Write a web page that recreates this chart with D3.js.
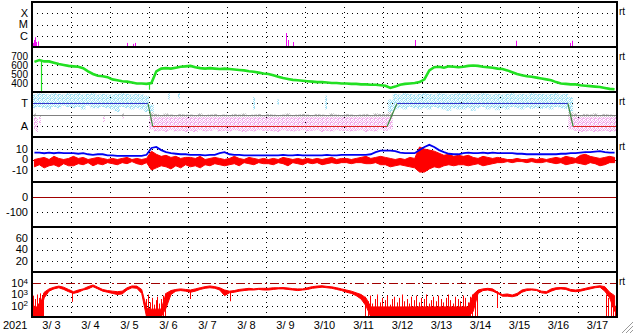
<!DOCTYPE html>
<html>
<head>
<meta charset="utf-8">
<script src="https://cdn.jsdelivr.net/npm/d3@7"></script>
<style>
  body { margin: 0; background: #fff; }
  svg text { font-family: "Liberation Sans", Arial, Helvetica, sans-serif; fill: #000; }
</style>
</head>
<body>
<svg id="chart" width="633" height="334"></svg>
<script>
// ---- data (3-hour bins, 8 per day, 3/3 00:00 .. 3/18 00:00) ----
const dateLabels = ["3/ 3", "3/ 4", "3/ 5", "3/ 6", "3/ 7", "3/ 8", "3/ 9", "3/10",
                    "3/11", "3/12", "3/13", "3/14", "3/15", "3/16", "3/17"];
const yearLabel = "2021";

// X-ray flares: hour, flux (W/m2)
const flareHour = [0.6, 1.2, 1.8, 2.5, 3.4, 3.7, 58.5, 62.2, 63.4, 156.3, 157.5, 160.6, 235.7, 297.8, 331.1, 332.3];
const flareFlux = [2.3e-7, 4.2e-7, 7.3e-7, 2.8e-7, 2.3e-7, 3.1e-7, 2.3e-7, 1.9e-7, 2.3e-7, 1.75e-6, 4.2e-7, 2.8e-7, 4.2e-7, 3.6e-7, 2.3e-7, 3.6e-7];

// solar wind speed (km/s)
const speed = [
  635, 655, 640, 640, 625, 610, 600, 590,
  585, 580, 565, 530, 500, 480, 475, 465,
  440, 430, 420, 415, 405, 395, 395, 390,
  400, 530, 560, 565, 560, 570, 580, 585,
  590, 575, 565, 560, 565, 560, 555, 560,
  555, 550, 545, 540, 530, 525, 515, 505,
  500, 485, 470, 455, 445, 435, 430, 425,
  420, 415, 410, 410, 405, 400, 400, 395,
  395, 390, 390, 385, 385, 380, 380, 375,
  370, 345, 360, 380, 390, 395, 400, 410,
  440, 540, 575, 580, 570, 585, 580, 575,
  580, 590, 595, 590, 580, 575, 570, 560,
  555, 540, 520, 500, 485, 475, 470, 460,
  450, 440, 430, 410, 395, 390, 385, 385,
  375, 370, 365, 360, 355, 345, 335, 330
];
const speedDropHour = [5.5, 72];
const speedDropValue = [300, 325];

// IMF angle scatter envelope (deg)
const phiLo = [
  230, 240, 230, 220, 240, 230, 250, 240,
  230, 240, 220, 250, 230, 230, 240, 230,
  220, 200, 240, 230, 220, 230, 220, 200,
  60, 45, 50, 40, 55, 45, 50, 40,
  50, 40, 55, 45, 50, 60, 45, 50,
  45, 55, 50, 40, 50, 45, 55, 50,
  50, 45, 40, 55, 50, 45, 50, 55,
  45, 50, 55, 40, 50, 45, 55, 50,
  50, 45, 50, 55, 40, 50, 45, 60,
  50, 60, 220, 230, 220, 240, 230, 220,
  230, 220, 240, 230, 220, 210, 230, 220,
  220, 230, 210, 230, 240, 220, 230, 215,
  230, 220, 240, 230, 220, 235, 225, 230,
  225, 230, 220, 240, 230, 225, 60, 50,
  40, 45, 50, 40, 45, 50, 40, 45
];
const phiHi = [
  340, 350, 345, 340, 350, 345, 340, 350,
  345, 350, 340, 345, 350, 340, 345, 340,
  340, 345, 350, 345, 340, 345, 340, 330,
  260, 185, 175, 190, 180, 170, 185, 180,
  180, 175, 190, 170, 180, 185, 175, 180,
  175, 185, 180, 190, 175, 180, 185, 175,
  185, 180, 175, 180, 190, 175, 180, 185,
  180, 175, 185, 180, 175, 190, 180, 175,
  185, 180, 175, 180, 185, 175, 190, 185,
  185, 300, 345, 340, 350, 345, 340, 345,
  350, 345, 340, 350, 345, 340, 345, 350,
  345, 350, 340, 345, 350, 345, 340, 345,
  340, 345, 350, 340, 345, 340, 350, 345,
  345, 340, 345, 350, 340, 345, 320, 190,
  175, 185, 180, 190, 175, 185, 180, 175
];
const phiSpikeHour = [1, 2.5, 4, 43.7, 55.4, 83.7, 90, 136, 150.8, 180];
const phiSpikeLo = [60, 40, 100, 120, 150, 300, 310, 220, 260, 220];
const phiSpikeHi = [190, 150, 170, 165, 190, 350, 350, 320, 300, 330];

// sector polarity line
const sectorHour = [0, 71.4, 74.3, 218.5, 224.6, 329.8, 333, 360];
const sectorPhi = [270, 270, 90, 90, 270, 270, 90, 90];

// magnetic field (nT)
const bt = [
  6.5, 6.5, 6, 6.5, 6, 6.5, 6, 6,
  6, 5.5, 6, 5, 4.5, 5, 5, 4,
  4, 3.5, 3.5, 3.5, 3.5, 3.5, 3.5, 4.5,
  11, 12, 9, 7, 6, 5.5, 5, 5,
  4.5, 4.5, 4.5, 4, 4.5, 4.5, 6, 7,
  5, 4.5, 4.5, 4, 4, 4, 4, 4,
  4, 4, 4, 4.5, 4, 4, 4.5, 4,
  4, 4, 4, 4, 4.5, 4, 4, 4.5,
  4.5, 4.5, 4.5, 4.5, 4.5, 5, 7, 8.5,
  8.5, 8.5, 8, 6.5, 6, 6, 6, 9,
  12, 14, 12, 9, 7, 5.5, 5, 5,
  6, 6.5, 6, 6, 6.5, 6, 6.5, 6,
  6, 6, 6, 5.5, 5.5, 5, 5, 5,
  5, 5, 5, 5, 5.5, 5.5, 6, 6,
  6.5, 7, 7, 7.5, 8, 7, 6.5, 6.5
];
const bzMin = [
  -7, -5, -8, -6, -5, -7, -4, -6,
  -6, -4, -5, -3, -6, -4, -5, -3,
  -4, -5, -3, -4, -2, -4, -5, -3,
  -10, -8, -6, -7, -9, -6, -8, -5,
  -7, -6, -8, -5, -6, -4, -5, -6,
  -5, -4, -6, -3, -4, -5, -3, -4,
  -4, -5, -3, -4, -6, -3, -4, -5,
  -3, -4, -3, -5, -4, -3, -4, -3,
  -3, -4, -3, -3, -4, -4, -3, -5,
  -5, -7, -6, -5, -6, -7, -8, -12,
  -12, -9, -7, -8, -6, -5, -6, -5,
  -5, -6, -5, -4, -6, -5, -4, -3,
  -3, -2, -3, -2, -2, -3, -2, -3,
  -3, -2, -3, -4, -3, -5, -4, -3,
  -4, -5, -3, -4, -6, -5, -3, -3
];
const bzMax = [
  0, 1, 2, 0, 3, 1, 0, 1,
  3, 1, 2, 0, 1, 2, 1, 0,
  1, 0, 1, 2, 0, 1, 0, 1,
  8, 5, 3, 4, 2, 3, 1, 2,
  2, 1, 3, 0, 1, 2, 1, 0,
  1, 3, 1, 0, 2, 1, 0, 1,
  0, 1, 0, 2, 1, 0, 1, 0,
  1, 0, 1, 0, 1, 2, 0, 1,
  1, 0, 1, 2, 3, 1, 2, 3,
  2, 1, 0, 1, 0, 2, 1, 12,
  10, 9, 8, 6, 4, 5, 3, 4,
  3, 4, 2, 1, 3, 2, 1, 2,
  1, 0, 0, 1, 0, 0, 1, 0,
  1, 0, 1, 2, 1, 3, 2, 1,
  4, 5, 3, 2, 1, 2, 3, 2
];

// electron flux, log10 envelope
const fluxLo = [
  1, 1, 2.7, 3.3, 3.5, 3.6, 3.45, 3.25,
  3.1, 3.2, 3.4, 3.5, 3.7, 3.5, 3.3, 3.2,
  3.1, 3.0, 3.05, 3.4, 3.6, 3.55, 3.1, 1,
  1, 1, 1, 1.8, 3.0, 3.3, 3.35, 3.3,
  3.2, 3.3, 3.45, 3.55, 3.6, 3.55, 3.4, 2.9,
  3.15, 3.2, 3.3, 3.35, 3.4, 3.4, 3.45, 3.4,
  3.4, 3.45, 3.5, 3.5, 3.45, 3.4, 3.35, 3.4,
  3.45, 3.55, 3.6, 3.65, 3.6, 3.55, 3.45, 3.35,
  3.2, 3.1, 2.9, 2.6, 2.0, 1, 1, 1,
  1, 1, 1, 1, 1, 1, 1, 1,
  1, 1, 1, 1, 1, 1, 1, 1,
  1, 1, 1.5, 3.1, 3.35, 3.4, 3.3, 3.1,
  2.85, 2.85, 2.8, 2.9, 3.2, 3.35, 3.4, 3.35,
  3.15, 3.1, 3.3, 3.45, 3.5, 3.45, 3.3, 3.25,
  3.3, 3.4, 3.5, 3.6, 3.65, 3.3, 2.7, 1.5
];
const fluxHi = [
  1.9, 1.9, 3.2, 3.5, 3.65, 3.75, 3.65, 3.45,
  3.25, 3.4, 3.5, 3.7, 3.85, 3.65, 3.45, 3.35,
  3.3, 3.25, 3.3, 3.6, 3.76, 3.75, 3.45, 1.8,
  1.7, 1.7, 1.7, 3.1, 3.35, 3.45, 3.5, 3.45,
  3.4, 3.5, 3.6, 3.7, 3.76, 3.7, 3.6, 3.4,
  3.3, 3.35, 3.45, 3.5, 3.55, 3.5, 3.55, 3.55,
  3.55, 3.6, 3.6, 3.62, 3.58, 3.52, 3.5, 3.5,
  3.6, 3.7, 3.75, 3.78, 3.72, 3.68, 3.6, 3.5,
  3.4, 3.3, 3.15, 3.0, 2.7, 1.9, 1.9, 1.9,
  1.9, 1.9, 1.9, 1.9, 1.9, 1.9, 1.9, 1.9,
  1.9, 1.9, 1.9, 1.9, 1.9, 1.9, 1.9, 1.9,
  1.9, 1.9, 3.0, 3.4, 3.5, 3.55, 3.5, 3.2,
  3.0, 3.05, 2.95, 3.1, 3.4, 3.5, 3.5, 3.45,
  3.3, 3.25, 3.5, 3.6, 3.62, 3.6, 3.45, 3.4,
  3.45, 3.55, 3.65, 3.72, 3.78, 3.7, 3.2, 2.9
];
// short spikes in the flux (dropouts and noise): hour, log10 low, log10 high
const fluxSpikeHour = [
  0.3, 0.9, 1.5, 2.1, 2.8, 3.4, 4.0, 4.7, 5.3, 6.0, 6.6,
  24.6, 97.5, 121.8, 286,
  70, 71.2, 72.5, 73.6, 74.8, 76, 77.1, 78.3, 79.5, 80.6, 81.8,
  205, 206.5, 208, 209.5, 211, 212.5, 214, 215.5, 217, 218.5, 220, 221.5,
  223, 224.5, 226, 227.5, 229, 230.5, 232, 233.5, 235, 236.5, 238, 239.5,
  241, 242.5, 244, 245.5, 247, 248.5, 250, 251.5, 253, 254.5, 256, 257.5,
  259, 260.5, 262, 263.5, 265, 266.5, 268, 269.5, 271, 272.5, 274,
  353, 354.5, 356, 357.5, 359
];
const fluxSpikeLo = [
  1, 1, 1, 1, 1, 1, 1, 1, 1, 1, 1,
  2.35, 2.6, 2.4, 1.8,
  1, 1, 1, 1, 1, 1, 1, 1, 1, 1, 1,
  1, 1, 1, 1, 1, 1, 1, 1, 1, 1, 1, 1,
  1, 1, 1, 1, 1, 1, 1, 1, 1, 1, 1, 1,
  1, 1, 1, 1, 1, 1, 1, 1, 1, 1, 1, 1,
  1, 1, 1, 1, 1, 1, 1, 1, 1, 1, 1,
  1, 1, 1, 1, 1
];
const fluxSpikeHi = [
  2.3, 2.9, 2.0, 2.6, 3.0, 2.2, 2.7, 3.1, 2.5, 2.9, 3.1,
  3.25, 3.35, 3.3, 3.3,
  2.6, 3.0, 2.3, 2.7, 2.1, 2.5, 2.8, 2.2, 2.6, 2.9, 3.1,
  2.8, 2.4, 2.9, 2.2, 2.6, 3.0, 2.3, 2.7, 2.5, 2.9, 2.1, 2.6,
  2.8, 2.3, 2.7, 3.0, 2.4, 2.6, 2.2, 2.8, 2.5, 2.9, 2.3, 2.7,
  2.6, 3.0, 2.2, 2.5, 2.8, 2.4, 2.9, 2.6, 2.3, 2.7, 3.0, 2.5,
  2.2, 2.8, 2.6, 2.4, 2.9, 2.7, 2.3, 2.8, 3.0, 2.6, 3.1,
  3.0, 2.7, 2.4, 2.2, 2.0
];

// ---- layout ----
const left = 32, right = 617;
const panelTop = [2, 47, 92, 137, 182, 227, 272];
const panelH = 45;
const bottom = panelTop[6] + panelH;
const binHour = d3.range(speed.length).map(i => 3 * i + 1.5);

const svg = d3.select("#chart");
const x = d3.scaleLinear().domain([0, 360]).range([left, right]);

const yX = d3.scaleLog().domain([1e-7, 1e-3]).range([panelTop[0] + panelH, panelTop[0]]);
const yV = d3.scaleLinear().domain([300, 800]).range([panelTop[1] + panelH, panelTop[1]]);
const yPhi = d3.scaleLinear().domain([0, 360]).range([panelTop[2] + panelH, panelTop[2]]);
const yB = d3.scaleLinear().domain([-21.5, 21.5]).range([panelTop[3] + panelH, panelTop[3]]);
const yDst = d3.scaleLinear().domain([-200, 100]).range([panelTop[4] + panelH, panelTop[4]]);
const yKp = d3.scaleLinear().domain([0, 80]).range([panelTop[5] + panelH, panelTop[5]]);
const yE = d3.scaleLog().domain([10, 1e5]).range([panelTop[6] + panelH, panelTop[6]]);

// clip paths for each panel
const defs = svg.append("defs");
panelTop.forEach((t, i) => {
  defs.append("clipPath").attr("id", "clip" + i)
    .append("rect").attr("x", left).attr("y", t).attr("width", right - left).attr("height", panelH);
});

// speckle patterns for the IMF scatter cloud
const speckle = [[0, 0], [2, 0], [1, 1], [3, 1], [0, 2], [2, 2], [3, 2], [1, 3], [2, 3]];
const phiColors = { toward: "#a2e0f4", perp: "#c4c4c4", away: "#f2aeec" };
Object.keys(phiColors).forEach(k => {
  const p = defs.append("pattern").attr("id", "spk-" + k)
    .attr("width", 4).attr("height", 4).attr("patternUnits", "userSpaceOnUse");
  speckle.forEach(s => p.append("rect").attr("x", s[0]).attr("y", s[1])
    .attr("width", 1).attr("height", 1).attr("fill", phiColors[k]));
});

const crisp = v => Math.round(v) + 0.5;

// vertical dotted grid at day boundaries
const grid = svg.append("g");
d3.range(1, 15).forEach(d => {
  grid.append("line")
    .attr("x1", crisp(x(24 * d))).attr("x2", crisp(x(24 * d)))
    .attr("y1", panelTop[0]).attr("y2", bottom)
    .attr("stroke", "#000").attr("stroke-dasharray", "1,4");
});

function hLine(parent, y, opts) {
  parent.append("line")
    .attr("x1", left).attr("x2", right)
    .attr("y1", crisp(y)).attr("y2", crisp(y))
    .attr("stroke", opts.color || "#000")
    .attr("stroke-width", opts.width || 1)
    .attr("stroke-dasharray", opts.dash || null);
}
const dotted = { dash: "1,4" };

[1e-6, 1e-5, 1e-4].forEach(v => hLine(grid, yX(v), dotted));
[400, 500, 600, 700].forEach(v => hLine(grid, yV(v), dotted));
[90, 270].forEach(v => hLine(grid, yPhi(v), dotted));
[-10, 10].forEach(v => hLine(grid, yB(v), dotted));
hLine(grid, yDst(-100), dotted);
[20, 40, 60].forEach(v => hLine(grid, yKp(v), dotted));
[1e2, 1e3].forEach(v => hLine(grid, yE(v), dotted));
hLine(grid, yB(0), { color: "#a00000" });
hLine(grid, yDst(0), { color: "#a00000" });
hLine(grid, yE(1e4), { color: "#a00000", dash: "9,3,2,3" });

// ---- panel 1: X-ray flares ----
svg.append("g").attr("clip-path", "url(#clip0)")
  .selectAll("line").data(flareHour).join("line")
  .attr("x1", (h) => crisp(x(h))).attr("x2", (h) => crisp(x(h)))
  .attr("y1", yX(1e-7)).attr("y2", (h, i) => yX(flareFlux[i]))
  .attr("stroke", "#f010f0").attr("stroke-width", 1);

// ---- panel 2: speed ----
const g2 = svg.append("g").attr("clip-path", "url(#clip1)");
g2.selectAll("line").data(speedDropHour).join("line")
  .attr("x1", h => crisp(x(h))).attr("x2", h => crisp(x(h)))
  .attr("y1", h => yV(speed[Math.floor(h / 3)]))
  .attr("y2", (h, i) => yV(speedDropValue[i]))
  .attr("stroke", "#22e022").attr("stroke-width", 1.2);
g2.append("path").datum(speed)
  .attr("fill", "none").attr("stroke", "#22e022").attr("stroke-width", 2.6)
  .attr("d", d3.line().x((d, i) => x(binHour[i])).y(d => yV(d)));

// ---- panel 3: IMF sector ----
const g3 = svg.append("g").attr("clip-path", "url(#clip2)");
function phiPieces(lo, hi) {
  return [
    [Math.max(lo, 200), hi, "toward"],
    [Math.max(lo, 160), Math.min(hi, 200), "perp"],
    [lo, Math.min(hi, 160), "away"]
  ].filter(p => p[0] < p[1]);
}
phiLo.forEach((lo, i) => {
  phiPieces(lo, phiHi[i]).forEach(p => {
    g3.append("rect")
      .attr("x", x(3 * i)).attr("width", x(3 * i + 3) - x(3 * i))
      .attr("y", yPhi(p[1])).attr("height", yPhi(p[0]) - yPhi(p[1]))
      .attr("fill", "url(#spk-" + p[2] + ")");
  });
});
phiSpikeHour.forEach((h, i) => {
  phiPieces(phiSpikeLo[i], phiSpikeHi[i]).forEach(p => {
    g3.append("rect")
      .attr("x", Math.round(x(h))).attr("width", 2)
      .attr("y", yPhi(p[1])).attr("height", yPhi(p[0]) - yPhi(p[1]))
      .attr("fill", "url(#spk-" + p[2] + ")");
  });
});
hLine(g3, yPhi(180), { color: "#808080" });
for (let i = 0; i < sectorHour.length - 1; i++) {
  const a = sectorPhi[i], b = sectorPhi[i + 1];
  const col = a !== b ? "#3d8a3d" : (a > 180 ? "#3333cc" : "#dd2222");
  g3.append("line")
    .attr("x1", x(sectorHour[i])).attr("x2", x(sectorHour[i + 1]))
    .attr("y1", crisp(yPhi(a))).attr("y2", crisp(yPhi(b)))
    .attr("stroke", col).attr("stroke-width", 1.2);
}

// ---- panel 4: Bz / Bt ----
const g4 = svg.append("g").attr("clip-path", "url(#clip3)");
g4.append("path").datum(bzMin)
  .attr("fill", "#ff0000").attr("stroke", "#ff0000").attr("stroke-width", 1)
  .attr("d", d3.area().x((d, i) => x(binHour[i])).y0(d => yB(d)).y1((d, i) => yB(bzMax[i])));
g4.append("path").datum(bt)
  .attr("fill", "none").attr("stroke", "#0000f0").attr("stroke-width", 1.8)
  .attr("d", d3.line().x((d, i) => x(binHour[i])).y(d => yB(d)));

// ---- panel 7: electron flux ----
const g7 = svg.append("g").attr("clip-path", "url(#clip6)");
g7.append("path").datum(fluxLo)
  .attr("fill", "#ff0000").attr("stroke", "#ff0000").attr("stroke-width", 1)
  .attr("d", d3.area().x((d, i) => x(binHour[i]))
    .y0(d => yE(Math.pow(10, d))).y1((d, i) => yE(Math.pow(10, fluxHi[i]))));
g7.selectAll("line.spike").data(fluxSpikeHour).join("line").attr("class", "spike")
  .attr("x1", h => crisp(x(h))).attr("x2", h => crisp(x(h)))
  .attr("y1", (h, i) => yE(Math.pow(10, fluxSpikeLo[i])))
  .attr("y2", (h, i) => yE(Math.pow(10, fluxSpikeHi[i])))
  .attr("stroke", "#ff0000").attr("stroke-width", 1);

// ---- frame ----
const frame = svg.append("g").attr("stroke", "#000").attr("stroke-width", 2);
panelTop.concat([bottom]).forEach(t => {
  frame.append("line").attr("x1", left - 1).attr("x2", right + 1).attr("y1", t).attr("y2", t);
});
[left, right].forEach(v => {
  frame.append("line").attr("x1", v).attr("x2", v).attr("y1", panelTop[0]).attr("y2", bottom);
});

// ---- labels ----
const labels = svg.append("g").attr("font-size", 11).attr("text-anchor", "end");
function yLabel(y, txt, sup, size) {
  const t = labels.append("text").attr("x", 28).attr("y", y).attr("dy", "0.36em").text(txt);
  if (size) t.attr("font-size", size);
  if (sup) t.append("tspan").attr("dy", "-0.45em").attr("font-size", 8).text(sup);
}
yLabel(yX(1e-4), "X"); yLabel(yX(1e-5), "M"); yLabel(yX(1e-6), "C");
[400, 500, 600, 700].forEach(v => yLabel(yV(v), String(v), null, 10));
yLabel(yPhi(270), "T"); yLabel(yPhi(90), "A");
[10, 0, -10].forEach(v => yLabel(yB(v), String(v)));
[0, -100].forEach(v => yLabel(yDst(v), String(v)));
[60, 40, 20].forEach(v => yLabel(yKp(v), String(v)));
[4, 3, 2].forEach(v => yLabel(yE(Math.pow(10, v)), "10", String(v)));

// right-side "rt" markers
[0, 1, 2, 3, 6].forEach(i => {
  svg.append("text").attr("x", 619).attr("y", panelTop[i] + 13)
    .attr("font-size", 10).text("rt");
});

// date axis
svg.append("g").attr("font-size", 11).attr("text-anchor", "middle")
  .selectAll("text").data(dateLabels).join("text")
  .attr("x", (d, i) => x(24 * i + 12)).attr("y", 329).text(d => d);
svg.append("text").attr("x", 3).attr("y", 329).attr("font-size", 11).text(yearLabel);

// window resize grip
const grip = svg.append("g").attr("stroke", "#9a9a9a").attr("stroke-width", 1);
[[622, 633], [626, 633], [630, 633]].forEach(p => {
  grip.append("line").attr("x1", 633).attr("y1", 333 - (p[1] - p[0])).attr("x2", p[0]).attr("y2", 333);
});
</script>
</body>
</html>
